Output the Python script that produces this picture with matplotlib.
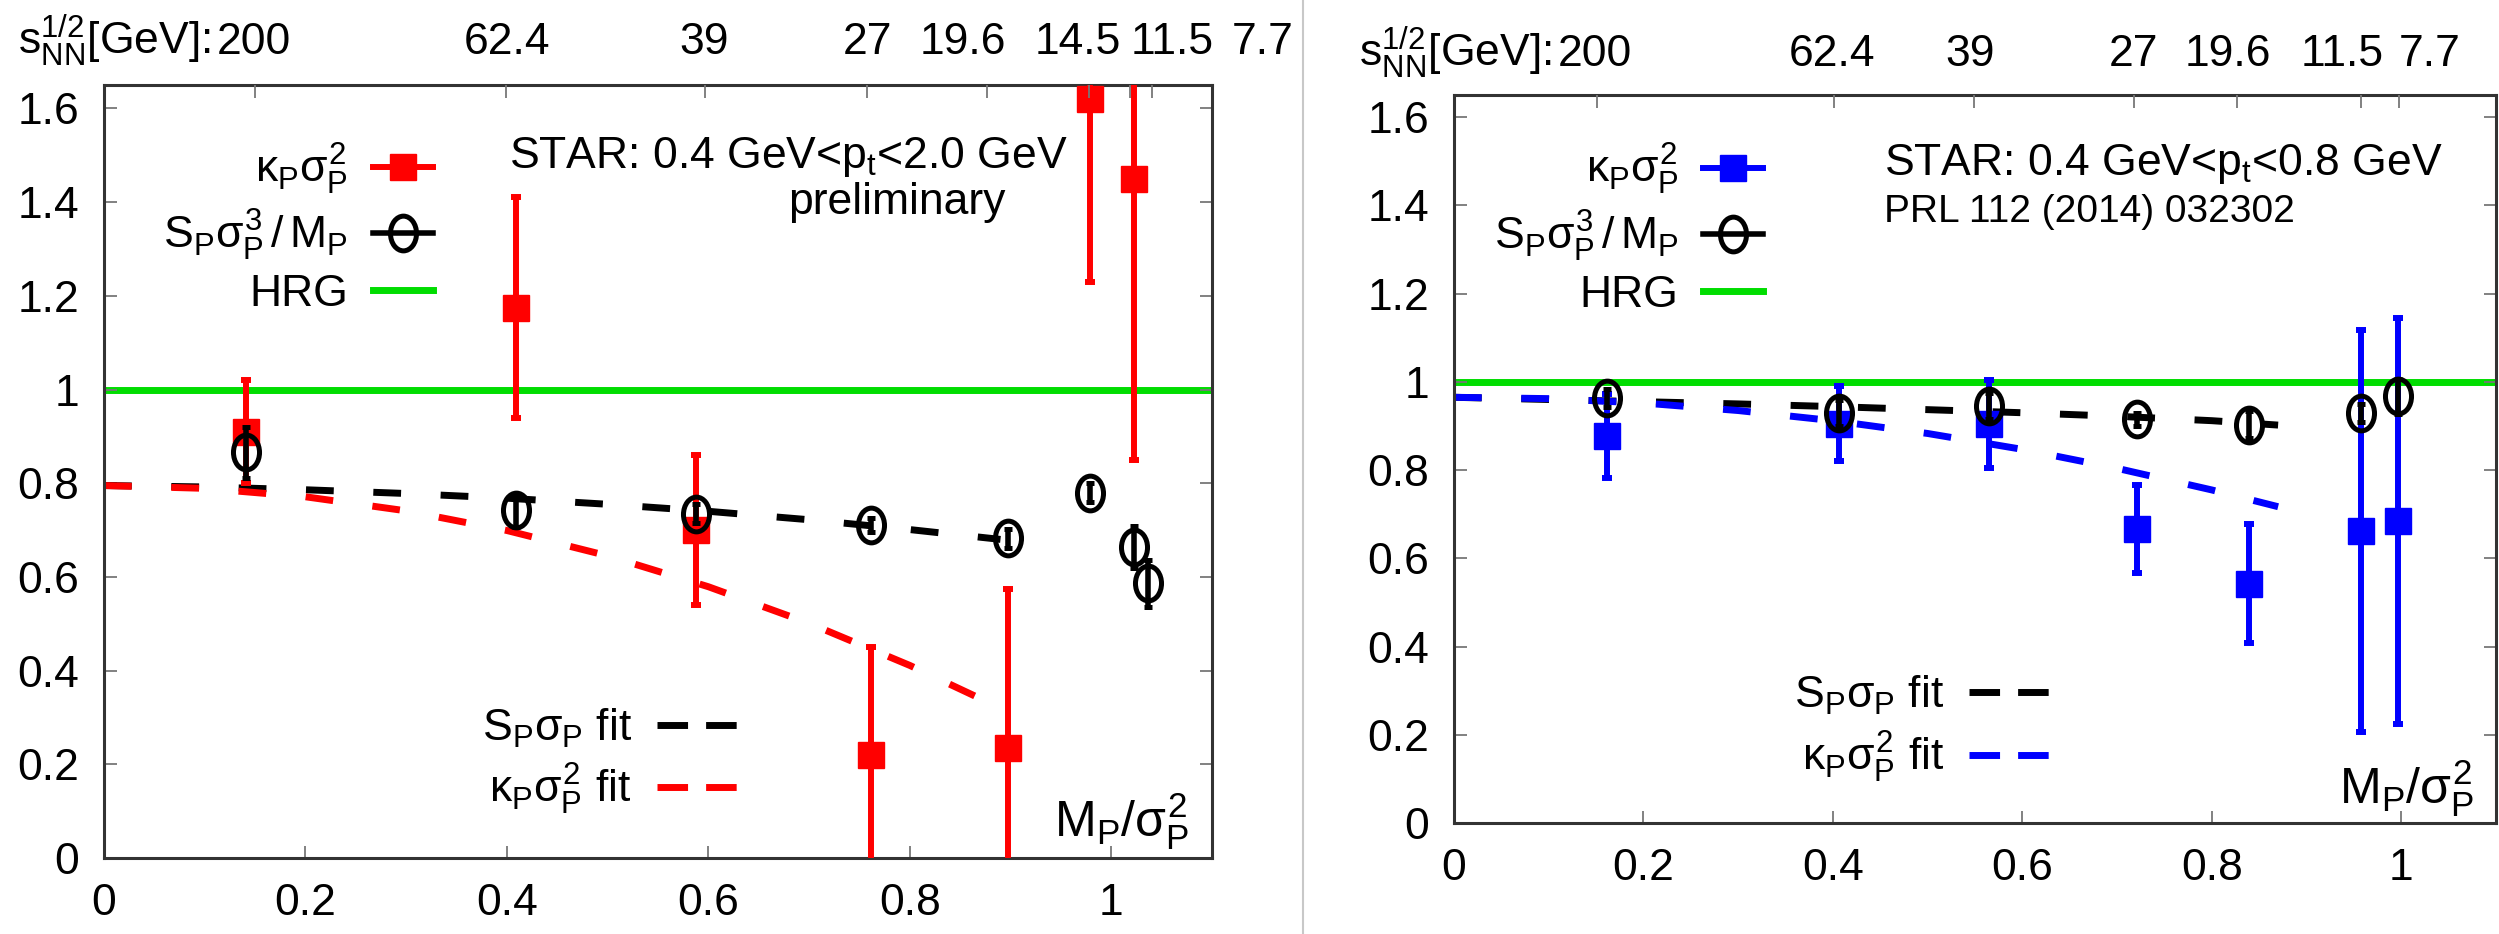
import matplotlib
matplotlib.use("Agg")
import matplotlib.pyplot as plt
from matplotlib.lines import Line2D
from matplotlib.path import Path
from matplotlib.transforms import Affine2D

FS = 32
plt.rcParams['font.family'] = ['Liberation Sans', 'DejaVu Sans']
plt.rcParams['mathtext.fontset'] = 'custom'
plt.rcParams['mathtext.rm'] = 'Liberation Sans'
plt.rcParams['mathtext.it'] = 'Liberation Sans'
plt.rcParams['mathtext.bf'] = 'Liberation Sans:bold'
plt.rcParams['font.size'] = FS

# ---- left panel: 0.4 < pt < 2.0 GeV (preliminary) ----
kappa_x_l = [0.141, 0.409, 0.588, 0.761, 0.897, 0.979, 1.023]
kappa_y_l = [0.91, 1.175, 0.70, 0.22, 0.235, 1.62, 1.45]
kappa_err_l = [0.11, 0.235, 0.16, 0.23, 0.34, 0.39, 0.60]

skew_x_l = [0.141, 0.409, 0.588, 0.761, 0.897, 0.979, 1.023, 1.036]
skew_y_l = [0.866, 0.742, 0.735, 0.71, 0.682, 0.78, 0.664, 0.586]
skew_err_l = [0.055, 0.035, 0.02, 0.015, 0.02, 0.02, 0.045, 0.05]

fit_x_l = [0.0, 0.1, 0.2, 0.3, 0.4, 0.5, 0.6, 0.7, 0.8, 0.89]
skew_fit_l = [0.795, 0.792, 0.786, 0.778, 0.768, 0.755, 0.740, 0.722, 0.701, 0.680]
kappa_fit_l = [0.795, 0.789, 0.771, 0.741, 0.699, 0.645, 0.579, 0.501, 0.411, 0.32]

energy_ticks_l = [0.150, 0.399, 0.597, 0.757, 0.877, 0.978, 1.019, 1.040]
energy_label_x_l = [0.149, 0.400, 0.596, 0.758, 0.853, 0.967, 1.060, 1.150]

# ---- right panel: 0.4 < pt < 0.8 GeV (PRL 112 (2014) 032302) ----
kappa_x_r = [0.162, 0.406, 0.565, 0.721, 0.839, 0.958, 0.997]
kappa_y_r = [0.877, 0.905, 0.905, 0.667, 0.542, 0.662, 0.685]
kappa_err_r = [0.095, 0.085, 0.10, 0.10, 0.135, 0.455, 0.46]

skew_x_r = [0.162, 0.406, 0.565, 0.721, 0.839, 0.958, 0.997]
skew_y_r = [0.963, 0.929, 0.945, 0.915, 0.903, 0.929, 0.967]
skew_err_r = [0.02, 0.03, 0.03, 0.015, 0.03, 0.02, 0.04]

fit_x_r = [0.0, 0.1, 0.2, 0.3, 0.4, 0.5, 0.6, 0.7, 0.8, 0.87]
skew_fit_r = [0.965, 0.960, 0.955, 0.950, 0.944, 0.937, 0.930, 0.922, 0.912, 0.902]
kappa_fit_r = [0.965, 0.962, 0.952, 0.935, 0.912, 0.883, 0.847, 0.804, 0.755, 0.717]

energy_ticks_r = [0.151, 0.401, 0.549, 0.718, 0.827, 0.957, 0.998]
energy_label_x_r = [0.149, 0.399, 0.545, 0.717, 0.817, 0.938, 1.030]

# shared
energies_l = ['200', '62.4', '39', '27', '19.6', '14.5', '11.5', '7.7']
energies_r = ['200', '62.4', '39', '27', '19.6', '11.5', '7.7']
hrg_level = 1.0
x_ticks = [0, 0.2, 0.4, 0.6, 0.8, 1.0]
x_tick_labels = ['0', '0.2', '0.4', '0.6', '0.8', '1']
y_ticks = [0, 0.2, 0.4, 0.6, 0.8, 1.0, 1.2, 1.4, 1.6]
y_tick_labels = ['0', '0.2', '0.4', '0.6', '0.8', '1', '1.2', '1.4', '1.6']

GREEN = '#00dd00'
ellipse = Path.unit_circle().transformed(Affine2D().scale(0.75, 1.0))

lab_kappa = r'$\kappa_\mathrm{P}\sigma_\mathrm{P}^2$'
lab_skew = r'$\mathrm{S_P}\sigma_\mathrm{P}^3\,/\,\mathrm{M_P}$'
lab_skew_fit = r'$\mathrm{S_P}\sigma_\mathrm{P}$ fit'
lab_kappa_fit = r'$\kappa_\mathrm{P}\sigma_\mathrm{P}^2$ fit'
prefix = r'$\mathrm{s_{NN}^{1/2}}$[GeV]:'

fig = plt.figure(figsize=(24.99, 9.34), dpi=100)
ax_l = fig.add_axes([0.0416, 0.0814, 0.4434, 0.8276])
ax_r = fig.add_axes([0.5818, 0.1188, 0.4170, 0.7794])


def style_axes(ax, ticks, labels, label_x):
    ax.set_xlim(0, 1.1)
    ax.set_ylim(0, 1.65)
    ax.set_xticks(x_ticks)
    ax.set_xticklabels(x_tick_labels)
    ax.set_yticks(y_ticks)
    ax.set_yticklabels(y_tick_labels)
    ax.tick_params(direction='in', length=9, width=1.3, color='#777777',
                   right=True, top=False)
    ax.tick_params(axis='x', pad=18)
    ax.tick_params(axis='y', pad=18)
    for s in ax.spines.values():
        s.set_color('#333333')
        s.set_linewidth(2.2)

    # energy scale along the top
    top = ax.twiny()
    top.set_xlim(ax.get_xlim())
    top.set_xticks(ticks)
    top.set_xticklabels([])
    top.tick_params(direction='in', length=9, width=1.3, color='#777777')
    for s in top.spines.values():
        s.set_visible(False)
    tr = ax.get_xaxis_transform()
    for xp, lab in zip(label_x, labels):
        ax.text(xp, 1.04, lab, ha='center', va='baseline', transform=tr)
    ax.annotate(prefix, xy=(label_x[0], 1.04), xycoords=tr,
                xytext=(-31, 0), textcoords='offset points',
                ha='right', va='baseline')
    ax.text(1.077, 0.045, r'$\mathrm{M_P}/\sigma_\mathrm{P}^2$', ha='right',
            va='baseline', fontsize=36)


def draw_panel(ax, color, kx, ky, ke, sx, sy, se, fx, sfit, kfit,
               top_anchor, low_anchor):
    ax.axhline(hrg_level, color=GREEN, lw=5, zorder=1)
    ax.errorbar(kx, ky, yerr=ke, fmt='s', color=color, ms=19,
                elinewidth=4.3, capsize=3.5, capthick=4.3, zorder=3)
    ax.errorbar(sx, sy, yerr=se, marker=ellipse, linestyle='none',
                mfc='none', mec='black', mew=3.6, ms=25, ecolor='black',
                elinewidth=4, capsize=3, capthick=4, zorder=4)
    ax.plot(fx, sfit, color='black', lw=5, dashes=(4, 5.7), zorder=2)
    ax.plot(fx, kfit, color=color, lw=5, dashes=(4, 5.7), zorder=2)

    h_kappa = Line2D([], [], color=color, marker='s', ms=19, lw=4.3)
    h_skew = Line2D([], [], color='black', marker=ellipse, mfc='none',
                    mec='black', mew=3.6, ms=25, lw=4)
    h_hrg = Line2D([], [], color=GREEN, lw=5)
    leg1 = ax.legend([h_kappa, h_skew, h_hrg], [lab_kappa, lab_skew, 'HRG'],
                     loc='upper right', bbox_to_anchor=(0.297, top_anchor),
                     markerfirst=False, frameon=False, borderpad=0,
                     borderaxespad=0, handlelength=1.35, handletextpad=0.56,
                     labelspacing=0.25, fontsize=FS)
    ax.add_artist(leg1)

    h_sfit = Line2D([], [], color='black', lw=5, dashes=(4.4, 2.6))
    h_kfit = Line2D([], [], color=color, lw=5, dashes=(4.4, 2.6))
    ax.legend([h_sfit, h_kfit], [lab_skew_fit, lab_kappa_fit],
              loc='upper right', bbox_to_anchor=(0.573, low_anchor),
              markerfirst=False, frameon=False, borderpad=0,
              borderaxespad=0, handlelength=1.85, handletextpad=0.56,
              labelspacing=0.28, fontsize=FS)


style_axes(ax_l, energy_ticks_l, energies_l, energy_label_x_l)
draw_panel(ax_l, 'red', kappa_x_l, kappa_y_l, kappa_err_l,
           skew_x_l, skew_y_l, skew_err_l, fit_x_l, skew_fit_l, kappa_fit_l,
           0.927, 0.196)
ax_l.text(0.402, 1.473, r'STAR: 0.4 GeV<p$_\mathrm{t}$<2.0 GeV', ha='left',
          va='baseline')
ax_l.text(0.787, 1.375, 'preliminary', ha='center', va='baseline')

style_axes(ax_r, energy_ticks_r, energies_r, energy_label_x_r)
draw_panel(ax_r, 'blue', kappa_x_r, kappa_y_r, kappa_err_r,
           skew_x_r, skew_y_r, skew_err_r, fit_x_r, skew_fit_r, kappa_fit_r,
           0.935, 0.205)
ax_r.text(0.454, 1.469, r'STAR: 0.4 GeV<p$_\mathrm{t}$<0.8 GeV', ha='left',
          va='baseline')
ax_r.text(0.454, 1.363, 'PRL 112 (2014) 032302', ha='left', va='baseline',
          fontsize=28)

# thin divider between the two panels
fig.add_artist(Line2D([0.5214, 0.5214], [0, 1], transform=fig.transFigure,
                      color='#c8c8c8', lw=1.5))

fig.savefig('out.png', dpi=100)
